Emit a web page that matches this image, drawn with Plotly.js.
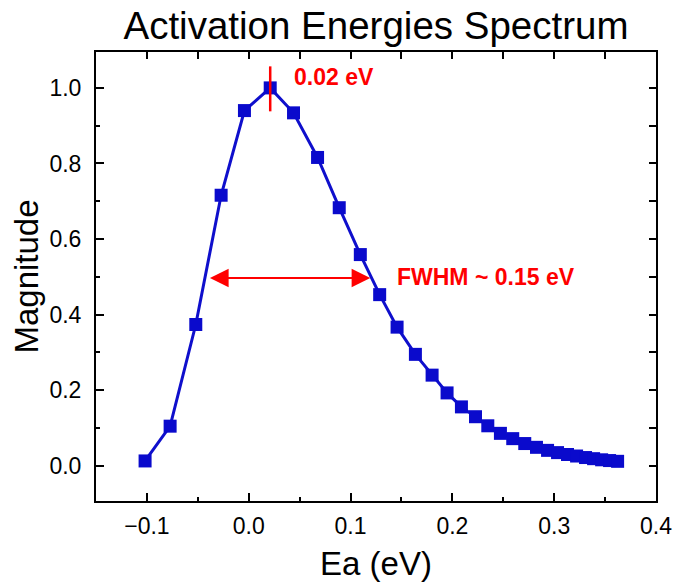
<!DOCTYPE html>
<html>
<head>
<meta charset="utf-8">
<script src="https://cdn.plot.ly/plotly-3.0.1.min.js"></script>
<style>html,body{margin:0;padding:0;background:#fff;}#chart{width:688px;height:587px;}</style>
</head>
<body>
<div id="chart"></div>
<script>
// Activation energy (eV) and normalized magnitude
const ea = [-0.1018, -0.0772, -0.0520, -0.0271, -0.0042, 0.0211, 0.0440, 0.0676, 0.0889, 0.1096,
            0.1286, 0.1457, 0.1637, 0.1801, 0.1948, 0.2089, 0.2227, 0.2348, 0.2472, 0.2593,
            0.2711, 0.2826, 0.2935, 0.3033, 0.3131, 0.3220, 0.3308, 0.3387, 0.3466, 0.3544, 0.3623];
const magnitude = [0.013, 0.105, 0.374, 0.716, 0.940, 1.000, 0.934, 0.816, 0.683, 0.559,
                   0.453, 0.367, 0.295, 0.240, 0.193, 0.156, 0.130, 0.106, 0.086, 0.072,
                   0.059, 0.049, 0.041, 0.035, 0.030, 0.026, 0.022, 0.019, 0.016, 0.014, 0.012];

// Annotation values
const peakEa = 0.0211;
const peakMarkRange = [0.938, 1.057];
const peakLabel = '0.02 eV';
const fwhmLevel = 0.497;
const fwhmRange = [-0.0396, 0.1194];
const fwhmLabel = 'FWHM ~ 0.15 eV';

const FONT = 'Arial, "Liberation Sans", sans-serif';
const BLUE = '#0f0fcc';
const RED = '#ff0000';

const traces = [
  {
    x: ea, y: magnitude, type: 'scatter', mode: 'lines+markers',
    line: {color: BLUE, width: 3},
    marker: {symbol: 'square', size: 13, color: '#0a0acc'},
    showlegend: false, hoverinfo: 'x+y'
  },
  {
    x: ea, y: magnitude, xaxis: 'x2', yaxis: 'y2', type: 'scatter', mode: 'lines',
    line: {color: 'rgba(0,0,0,0)', width: 1}, opacity: 0,
    showlegend: false, hoverinfo: 'skip'
  }
];

const xr = [-0.15, 0.4];
const yr = [-0.093, 1.095];

const axBase = {
  showline: true, linecolor: '#000', linewidth: 2, mirror: false,
  showgrid: false, zeroline: false, ticks: 'inside', tickcolor: '#000',
  tickwidth: 2, tickfont: {family: FONT, size: 23, color: '#000'}
};

const layout = {
  width: 688, height: 587,
  margin: {l: 96, r: 32, t: 52, b: 86, pad: 0},
  paper_bgcolor: '#fff', plot_bgcolor: '#fff',
  font: {family: FONT, color: '#000'},
  title: {text: 'Activation Energies Spectrum', font: {family: FONT, size: 38.5, color: '#000'},
          x: 0.5, xref: 'paper', xanchor: 'center', y: 0.956, yref: 'container', yanchor: 'middle'},
  xaxis: Object.assign({}, axBase, {
    range: xr, tick0: 0, dtick: 0.1, tickformat: '.1f', ticklen: 8,
    ticklabelstandoff: 3,
    minor: {dtick: 0.05, tick0: 0, ticks: 'inside', ticklen: 4, tickwidth: 2, tickcolor: '#000'},
    title: {text: 'Ea (eV)', font: {family: FONT, size: 33, color: '#000'}, standoff: 14}
  }),
  yaxis: Object.assign({}, axBase, {
    range: yr, tick0: 0, dtick: 0.2, tickformat: '.1f', ticklen: 8,
    ticklabelstandoff: 8,
    minor: {dtick: 0.1, tick0: 0, ticks: 'inside', ticklen: 4, tickwidth: 2, tickcolor: '#000'},
    title: {text: 'Magnitude', font: {family: FONT, size: 33, color: '#000'}, standoff: 1}
  }),
  xaxis2: Object.assign({}, axBase, {
    overlaying: 'x', side: 'top', anchor: 'y', range: xr, tick0: 0, dtick: 0.05,
    ticklen: 7, showticklabels: false
  }),
  yaxis2: Object.assign({}, axBase, {
    overlaying: 'y', side: 'right', anchor: 'x', range: yr, tick0: 0, dtick: 0.1,
    ticklen: 7, showticklabels: false
  }),
  shapes: [
    {type: 'line', xref: 'x', yref: 'y', x0: peakEa, x1: peakEa,
     y0: peakMarkRange[0], y1: peakMarkRange[1], line: {color: RED, width: 2.5}}
  ],
  annotations: [
    {xref: 'x', yref: 'y', x: fwhmRange[1], y: fwhmLevel, axref: 'x', ayref: 'y',
     ax: fwhmRange[0], ay: fwhmLevel, text: '', showarrow: true,
     arrowhead: 2, startarrowhead: 2, arrowside: 'end+start',
     arrowsize: 1.7, startarrowsize: 1.7, arrowwidth: 2.2, arrowcolor: RED,
     standoff: 0, startstandoff: 0},
    {xref: 'x', yref: 'y', x: 0.144, y: 0.5, text: '<b>' + fwhmLabel + '</b>', showarrow: false,
     xanchor: 'left', yanchor: 'middle', font: {family: FONT, size: 23, color: RED}},
    {xref: 'x', yref: 'y', x: 0.0424, y: 1.028, text: '<b>' + peakLabel + '</b>', showarrow: false,
     xanchor: 'left', yanchor: 'middle', font: {family: FONT, size: 23, color: RED}}
  ]
};

Plotly.newPlot('chart', traces, layout, {displayModeBar: false, staticPlot: true});
</script>
</body>
</html>
